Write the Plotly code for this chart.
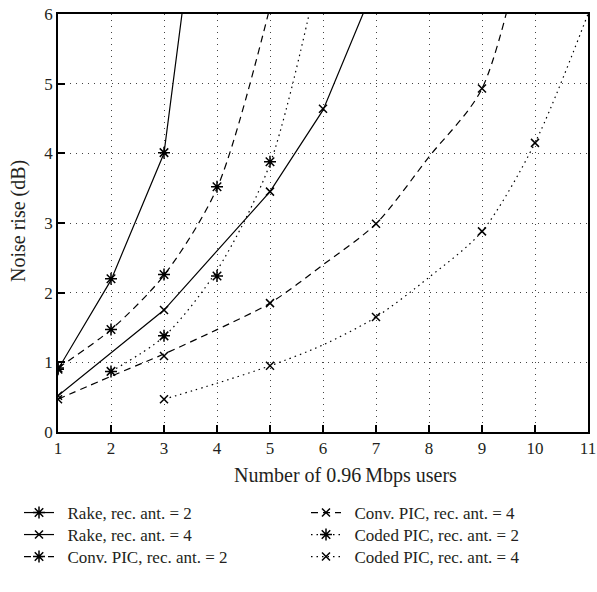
import plotly.graph_objects as go

# ---- data ----
x_ticks = [1, 2, 3, 4, 5, 6, 7, 8, 9, 10, 11]
y_ticks = [0, 1, 2, 3, 4, 5, 6]

# fitted curves (line) per series
rake2_cx = [1, 2, 3, 4]
rake2_cy = [0.90, 2.18, 4.00, 9.90]
rake4_cx = [1, 2, 3, 4, 5, 6, 7]
rake4_cy = [0.52, 1.13, 1.75, 2.60, 3.45, 4.62, 6.45]
conv2_cx = [1, 2, 3, 4, 5]
conv2_cy = [0.92, 1.47, 2.25, 3.50, 6.10]
conv4_cx = [1, 2, 3, 4, 5, 6, 7, 8, 9, 10]
conv4_cy = [0.47, 0.80, 1.12, 1.47, 1.85, 2.40, 2.99, 3.95, 4.93, 7.80]
coded2_cx = [2, 3, 4, 5, 6]
coded2_cy = [0.87, 1.37, 2.32, 3.85, 6.90]
coded4_cx = [3, 4, 5, 6, 7, 8, 9, 10, 11]
coded4_cy = [0.47, 0.70, 0.95, 1.25, 1.65, 2.22, 2.88, 4.15, 6.00]

# simulated points (markers)
rake2_mx = [1, 2, 3]
rake2_my = [0.90, 2.20, 4.01]
rake4_mx = [1, 3, 5, 6]
rake4_my = [0.52, 1.75, 3.45, 4.64]
conv2_mx = [1, 2, 3, 4]
conv2_my = [0.92, 1.47, 2.26, 3.52]
conv4_mx = [1, 3, 5, 7, 9]
conv4_my = [0.47, 1.09, 1.85, 2.99, 4.93]
coded2_mx = [2, 3, 4, 5]
coded2_my = [0.87, 1.38, 2.24, 3.88]
coded4_mx = [3, 5, 7, 9, 10]
coded4_my = [0.47, 0.95, 1.65, 2.88, 4.15]

names = ["Rake, rec. ant. = 2", "Rake, rec. ant. = 4",
         "Conv. PIC, rec. ant. = 2", "Conv. PIC, rec. ant. = 4",
         "Coded PIC, rec. ant. = 2", "Coded PIC, rec. ant. = 4"]
x_title = "Number of 0.96\u2009Mbps users"
y_title = "Noise rise (dB)"

FONT = "Liberation Serif"
TXT = "#231f20"
SOLID = "solid"
DASH = "7px,5px"
DOT = "1.5px,4px"
STAR = "asterisk-open"
CROSS = "x-thin-open"

series = [
    (names[0], rake2_cx, rake2_cy, rake2_mx, rake2_my, SOLID, STAR, "linear"),
    (names[1], rake4_cx, rake4_cy, rake4_mx, rake4_my, SOLID, CROSS, "linear"),
    (names[2], conv2_cx, conv2_cy, conv2_mx, conv2_my, DASH, STAR, "spline"),
    (names[3], conv4_cx, conv4_cy, conv4_mx, conv4_my, DASH, CROSS, "spline"),
    (names[4], coded2_cx, coded2_cy, coded2_mx, coded2_my, DOT, STAR, "spline"),
    (names[5], coded4_cx, coded4_cy, coded4_mx, coded4_my, DOT, CROSS, "spline"),
]

W, H = 597, 592
# plot area in pixels: left 58, right 588, top 14, bottom 432
PL, PR, PT, PB = 58, 588, 14, 432


def px2x(px):
    return (px - PL) / (PR - PL)


def px2y(py):
    return (PB - py) / (PB - PT)


fig = go.Figure()
for i, (name, cx, cy, mx, my, dash, sym, shape) in enumerate(series):
    msize = 10 if sym == STAR else 8
    lg = "legend" if i == 0 else "legend%d" % (i + 1)
    fig.add_trace(go.Scatter(x=cx, y=cy, mode="lines", showlegend=False,
                             line=dict(color="black", width=1.2, dash=dash,
                                       shape=shape, smoothing=0.8)))
    fig.add_trace(go.Scatter(x=mx, y=my, mode="markers", showlegend=False,
                             marker=dict(symbol=sym, size=msize, color="black",
                                         line=dict(color="black", width=1.5))))
    fig.add_trace(go.Scatter(x=[None], y=[None], mode="lines+markers",
                             name="\u2002" + name, legend=lg,
                             line=dict(color="black", width=1.2, dash=dash),
                             marker=dict(symbol=sym, size=msize, color="black",
                                         line=dict(color="black", width=1.5))))

axis_common = dict(
    showline=True, linecolor="black", linewidth=1.5, mirror=True,
    ticks="inside", ticklen=7, tickwidth=1.5, tickcolor="black",
    showgrid=True, gridcolor="#444", gridwidth=1, griddash="1px,5px",
    zeroline=False, automargin=False, ticklabeloverflow="allow",
    tickfont=dict(family=FONT, size=17, color=TXT),
)

fig.update_xaxes(range=[1, 11], tickvals=x_ticks, **axis_common)
fig.update_yaxes(range=[0, 6], tickvals=y_ticks, **axis_common)

fig.add_annotation(text=x_title, xref="paper", yref="paper",
                   x=px2x(345), y=px2y(476), xanchor="center", yanchor="middle",
                   showarrow=False, font=dict(family=FONT, size=20, color=TXT))
fig.add_annotation(text=y_title, xref="paper", yref="paper", textangle=-90,
                   x=px2x(18), y=px2y(221), xanchor="center", yanchor="middle",
                   showarrow=False, font=dict(family=FONT, size=20, color=TXT))

legend_layout = {}
row_y = [513, 535, 557]
col_x = [19, 306]
for i in range(6):
    col = i // 3
    row = i % 3
    key = "legend" if i == 0 else "legend%d" % (i + 1)
    legend_layout[key] = dict(
        x=px2x(col_x[col]), y=px2y(row_y[row]), xanchor="left", yanchor="middle",
        font=dict(family=FONT, size=17, color=TXT),
        bgcolor="rgba(0,0,0,0)", borderwidth=0, itemwidth=30)

fig.update_layout(
    width=W, height=H,
    margin=dict(l=PL, r=W - PR, t=PT, b=H - PB, autoexpand=False),
    plot_bgcolor="white", paper_bgcolor="white",
    hovermode=False,
    **legend_layout,
)

# remove the browser's default 8 px body margin so the figure fills the window
fig.write_html("out.html", config={"displayModeBar": False},
               post_script="document.body.style.margin='0px';")
